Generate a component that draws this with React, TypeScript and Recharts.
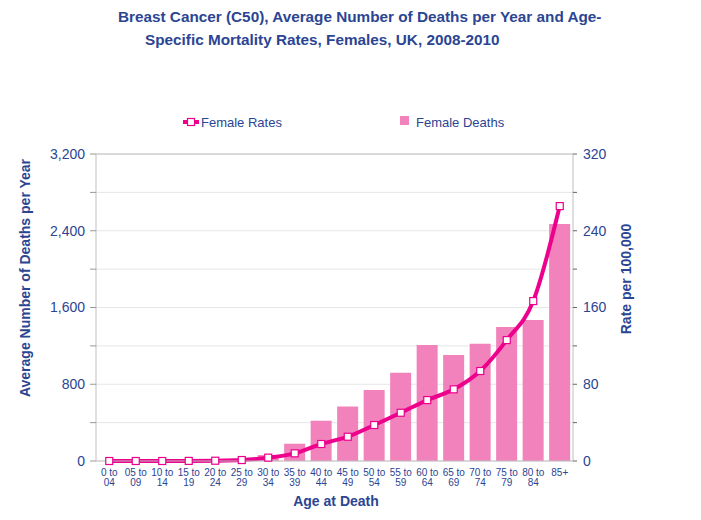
import React from 'react'
import {
  ComposedChart,
  Bar,
  Line,
  XAxis,
  YAxis,
  CartesianGrid,
  ReferenceLine,
} from 'recharts'

const ageGroups = [
  '0 to 04', '05 to 09', '10 to 14', '15 to 19', '20 to 24', '25 to 29',
  '30 to 34', '35 to 39', '40 to 44', '45 to 49', '50 to 54', '55 to 59',
  '60 to 64', '65 to 69', '70 to 74', '75 to 79', '80 to 84', '85+',
]
const femaleDeaths = [0, 0, 0, 0, 3, 12, 62, 180, 420, 567, 740, 920, 1210, 1105, 1222, 1396, 1470, 2470]
const femaleRates = [0, 0, 0, 0.1, 0.3, 1.0, 3.5, 8, 17.7, 25.3, 37.5, 50.3, 63.5, 74.7, 93.8, 126, 166.7, 265.7]
const leftTicks = [0, 400, 800, 1200, 1600, 2000, 2400, 2800, 3200]
const rightTicks = [0, 40, 80, 120, 160, 200, 240, 280, 320]
const edgeTicks = Array.from({length: ageGroups.length + 1}, (_, i) => i)

const data = ageGroups.map((age, i) => ({
  age,
  deaths: femaleDeaths[i],
  rate: femaleRates[i],
}))

const FONT = '"Liberation Sans", Arial, sans-serif'
const BLUE = '#2B4593'
const PINK = '#EC008C'
const BAR = '#F282BC'
const AXIS = '#BFBFBF'

const AgeTick = (props: any) => {
  const {x, y, payload} = props
  const parts = String(payload.value).split(' to ')
  return (
    <text x={x} y={y} textAnchor="middle" fill={BLUE} fontSize={10} fontFamily={FONT}>
      {parts.length > 1 ? (
        <>
          <tspan x={x} dy={7}>{parts[0] + ' to'}</tspan>
          <tspan x={x} dy={10}>{parts[1]}</tspan>
        </>
      ) : (
        <tspan x={x} dy={7}>{parts[0]}</tspan>
      )}
    </text>
  )
}

const SquareDot = (props: any) => {
  const {cx, cy, index} = props
  if (cx == null || cy == null) return <g key={index} />
  return (
    <rect key={index} x={cx - 3.5} y={cy - 3.5} width={7} height={7}
      fill="#fff" stroke={PINK} strokeWidth={1.2} />
  )
}

function App() {
  return (
    <div style={{position: 'absolute', left: 0, top: 0, width: 701, height: 520, background: '#fff'}}>
      <ComposedChart
        width={701}
        height={520}
        data={data}
        margin={{top: 154, right: 0, bottom: 0, left: 0}}
      >
        <CartesianGrid horizontal vertical={false} stroke="#E6E6E6" yAxisId="left" />
        <XAxis
          xAxisId="edges"
          type="number"
          domain={[0, ageGroups.length]}
          ticks={edgeTicks}
          tick={false}
          axisLine={false}
          tickLine={{stroke: AXIS}}
          tickSize={6}
          height={0}
        />
        <XAxis
          xAxisId="age"
          dataKey="age"
          interval={0}
          tick={<AgeTick />}
          tickLine={false}
          axisLine={{stroke: AXIS}}
          height={59}
        />
        <YAxis
          yAxisId="left"
          domain={[0, 3200]}
          ticks={leftTicks}
          tickFormatter={(v: number) => (v % 800 === 0 ? v.toLocaleString('en-US') : '')}
          tick={{fill: BLUE, fontSize: 14, fontFamily: FONT}}
          axisLine={{stroke: AXIS}}
          tickLine={{stroke: '#999'}}
          tickSize={6}
          tickMargin={5}
          width={96}
        />
        <YAxis
          yAxisId="right"
          orientation="right"
          domain={[0, 320]}
          ticks={rightTicks}
          tickFormatter={(v: number) => (v % 80 === 0 ? String(v) : '')}
          tick={{fill: BLUE, fontSize: 14, fontFamily: FONT, textAnchor: 'start'}}
          axisLine={{stroke: AXIS}}
          tickLine={{stroke: '#666'}}
          tickSize={4}
          tickMargin={6}
          width={128}
        />
        <ReferenceLine yAxisId="left" xAxisId="age" y={3200} stroke={AXIS} />
        <Bar
          xAxisId="age"
          yAxisId="left"
          dataKey="deaths"
          fill={BAR}
          barCategoryGap="12%"
          isAnimationActive={false}
        />
        <Line
          xAxisId="age"
          yAxisId="right"
          dataKey="rate"
          type="monotone"
          stroke={PINK}
          strokeWidth={4}
          dot={<SquareDot />}
          activeDot={false}
          isAnimationActive={false}
        />
      </ComposedChart>
      <svg width={701} height={520} style={{position: 'absolute', left: 0, top: 0, pointerEvents: 'none'}}
        fontFamily={FONT}>
        <text x={118} y={22} fill={BLUE} fontSize={15.3} fontWeight="bold">
          Breast Cancer (C50), Average Number of Deaths per Year and Age-
        </text>
        <text x={145} y={45} fill={BLUE} fontSize={15.3} fontWeight="bold">
          Specific Mortality Rates, Females, UK, 2008-2010
        </text>
        <line x1={183} x2={199} y1={122} y2={122} stroke={PINK} strokeWidth={4} />
        <rect x={187.5} y={118.5} width={7} height={7} fill="#fff" stroke={PINK} strokeWidth={1.2} />
        <text x={201} y={127} fill={BLUE} fontSize={13}>Female Rates</text>
        <rect x={400} y={116} width={9} height={9} fill={BAR} />
        <text x={416} y={127} fill={BLUE} fontSize={13}>Female Deaths</text>
        <text transform="translate(30,278) rotate(-90)" textAnchor="middle" fill={BLUE}
          fontSize={14} fontWeight="bold">Average Number of Deaths per Year</text>
        <text transform="translate(631,279) rotate(-90)" textAnchor="middle" fill={BLUE}
          fontSize={14} fontWeight="bold">Rate per 100,000</text>
        <text x={336} y={506} textAnchor="middle" fill={BLUE} fontSize={14} fontWeight="bold">
          Age at Death
        </text>
      </svg>
    </div>
  )
}

export default App
